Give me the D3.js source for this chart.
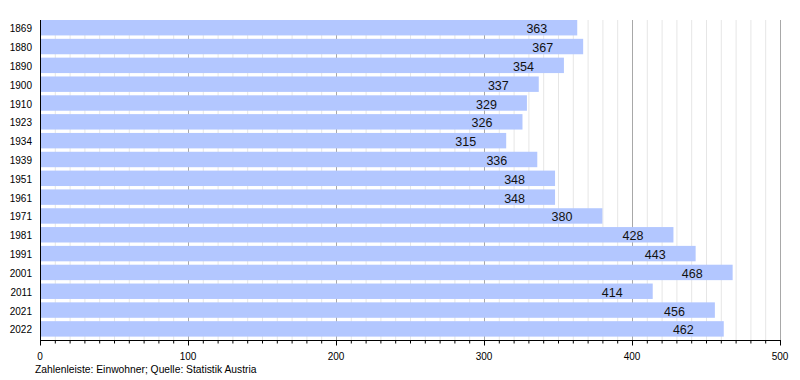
<!DOCTYPE html>
<html>
<head>
<meta charset="utf-8">
<script src="https://cdn.jsdelivr.net/npm/d3@7"></script>
<style>
  body { margin: 0; background: #fff; }
  svg { font-family: "Liberation Sans", Arial, sans-serif; }
</style>
</head>
<body>
<div id="chart"></div>
<script>
// population per census year
var years = ["1869", "1880", "1890", "1900", "1910", "1923", "1934", "1939", "1951", "1961",
             "1971", "1981", "1991", "2001", "2011", "2021", "2022"];
var population = [363, 367, 354, 337, 329, 326, 315, 336, 348, 348,
                  380, 428, 443, 468, 414, 456, 462];
var xTicks = [0, 100, 200, 300, 400, 500];
var footer = "Zahlenleiste: Einwohner; Quelle: Statistik Austria";

var w = 800, h = 380;
// note: "top" is taken by window.top, so plot edges get their own names
var plotL = 40, plotR = 780, plotT = 20, plotB = 340;

var svg = d3.select("#chart").append("svg")
  .attr("width", w)
  .attr("height", h);

var x = d3.scaleLinear().domain([0, 500]).range([plotL, plotR]);
var y = d3.scaleBand().domain(years).range([plotT, plotB])
  .paddingInner(0.18).paddingOuter(0.09).align(0);

// grid lines every 10, darker every 100
svg.append("g").selectAll("line")
  .data(d3.range(10, 501, 10))
  .enter().append("line")
  .attr("x1", function(d) { return x(d) + 0.5; })
  .attr("x2", function(d) { return x(d) + 0.5; })
  .attr("y1", plotT)
  .attr("y2", plotB)
  .attr("stroke", function(d) { return d % 100 === 0 ? "#a8a8a8" : "#e6e6e6"; })
  .attr("stroke-width", 1);

svg.append("g").selectAll("rect")
  .data(population)
  .enter().append("rect")
  .attr("x", x(0))
  .attr("y", function(d, i) { return y(years[i]); })
  .attr("width", function(d) { return x(d) - x(0); })
  .attr("height", y.bandwidth())
  .attr("fill", "#b3c7ff");

svg.append("g").selectAll("text")
  .data(population)
  .enter().append("text")
  .attr("x", function(d) { return x(d) - 30; })
  .attr("y", function(d, i) { return y(years[i]) + y.bandwidth() / 2; })
  .attr("dy", "0.44em")
  .attr("text-anchor", "end")
  .attr("font-size", 12.5)
  .attr("fill", "#111")
  .text(function(d) { return d; });

// year labels
svg.append("g").selectAll("text")
  .data(years)
  .enter().append("text")
  .attr("x", 32)
  .attr("y", function(d) { return y(d) + y.bandwidth() / 2; })
  .attr("dy", "0.45em")
  .attr("text-anchor", "end")
  .attr("font-size", 10)
  .attr("fill", "#000")
  .text(function(d) { return d; });

// left axis line
svg.append("line")
  .attr("x1", plotL + 0.5).attr("x2", plotL + 0.5)
  .attr("y1", plotT).attr("y2", plotB)
  .attr("stroke", "#000");

// bottom axis
var axis = svg.append("g").attr("transform", "translate(0," + (plotB + 0.5) + ")");
axis.append("line")
  .attr("x1", plotL).attr("x2", plotR + 1)
  .attr("stroke", "#000");
axis.selectAll(".minor")
  .data(d3.range(0, 501, 10))
  .enter().append("line")
  .attr("x1", function(d) { return x(d) + 0.5; })
  .attr("x2", function(d) { return x(d) + 0.5; })
  .attr("y1", 0)
  .attr("y2", function(d) { return d % 100 === 0 ? 5 : 3; })
  .attr("stroke", "#000");
axis.selectAll("text")
  .data(xTicks)
  .enter().append("text")
  .attr("x", function(d) { return x(d); })
  .attr("y", 19)
  .attr("text-anchor", "middle")
  .attr("font-size", 10)
  .text(function(d) { return d; });

svg.append("text")
  .attr("x", 35)
  .attr("y", 372.5)
  .attr("font-size", 10.3)
  .text(footer);
</script>
</body>
</html>
